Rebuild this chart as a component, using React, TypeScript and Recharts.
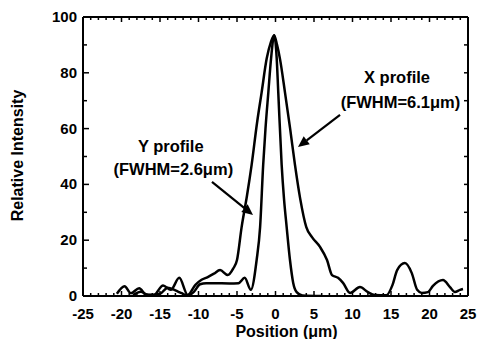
import React from 'react';
import { LineChart, Line, XAxis, YAxis, ReferenceLine, ReferenceDot, Label } from 'recharts';

// X profile (broad, FWHM = 6.1 um)
const xProfilePos = [-20.6, -19.6, -18.8, -17.7, -16.8, -15.8, -14.6, -13.6, -12.5, -11.4, -10.4, -9.6, -8.8, -8.0, -7.2, -6.2, -5.5, -5.0, -4.4, -3.7, -3.1, -2.4, -1.8, -1.15, -0.6, -0.17, 0.2, 0.58, 1.23, 1.9, 2.53, 3.2, 4.0, 4.74, 5.78, 6.69, 7.34, 8.12, 8.77, 9.68, 10.97, 12.0, 12.9, 14.4, 15.2, 15.8, 16.8, 17.7, 18.4, 19.0, 19.8, 20.45, 21.75, 22.66, 23.3, 23.96, 24.35];
const xProfileVal = [0.8, 3.5, 1.0, 2.8, 0.5, 0.4, 3.8, 2.2, 6.5, 0.4, 4.0, 5.8, 6.8, 8.0, 9.3, 7.5, 9.8, 12.9, 24.7, 36, 47, 62, 73, 85, 91, 93.5, 90, 85, 73, 60, 47, 35, 24.7, 21.1, 17.6, 12.9, 7.5, 6.5, 4.7, 1.1, 3.2, 1.4, 0.4, 0.3, 4.0, 9.3, 11.8, 8.2, 2.2, 1.1, 1.4, 3.6, 5.7, 3.2, 1.4, 2.2, 2.5];

// Y profile (narrow, FWHM = 2.6 um)
const yProfilePos = [-18.5, -17.5, -16.5, -15.0, -14.0, -13.0, -12.2, -11.4, -10.6, -9.8, -9.0, -8.0, -6.0, -4.8, -4.0, -3.2, -2.45, -2.0, -1.6, -1.3, -0.93, -0.58, -0.17, 0.16, 0.36, 0.8, 1.1, 1.45, 1.88, 2.3, 2.75, 3.5, 6.0];
const yProfileVal = [0.3, 1.5, 0.3, 0.8, 3.0, 2.0, 1.0, 0.2, 1.5, 4.2, 4.6, 4.6, 4.5, 4.6, 6.5, 2.2, 12.9, 24.7, 47, 60, 73, 85, 93.5, 85, 73, 47, 35, 24.7, 12.9, 4.7, 1.4, 0.2, 0];

const xMajorTicks = [-25, -20, -15, -10, -5, 0, 5, 10, 15, 20, 25];
const xAllTicks = Array.from({ length: 51 }, (_, i) => i - 25);
const yMajorTicks = [0, 20, 40, 60, 80, 100];
const yAllTicks = [0, 10, 20, 30, 40, 50, 60, 70, 80, 90, 100];

const xTitle = 'Position (\u03bcm)';
const yTitle = 'Relative Intensity';

const annotations = [
  { x: 15.78, y: 76.2, text: 'X profile' },
  { x: 16.23, y: 67.3, text: '(FWHM=6.1\u03bcm)' },
  { x: -13.6, y: 51.7, text: 'Y profile' },
  { x: -13.27, y: 43.4, text: '(FWHM=2.6\u03bcm)' },
];

const arrows = [
  { from: { x: 8.38, y: 64.9 }, to: { x: 2.92, y: 53.4 } },
  { from: { x: -8.25, y: 40.9 }, to: { x: -2.92, y: 29.0 } },
];

const xData = xProfilePos.map((p, i) => ({ pos: p, val: xProfileVal[i] }));
const yData = yProfilePos.map((p, i) => ({ pos: p, val: yProfileVal[i] }));

const FONT = '"Liberation Sans", Arial, Helvetica, sans-serif';

const BottomTick = (props: any) => {
  const { x, y, payload } = props;
  const v = payload.value;
  const major = xMajorTicks.includes(v);
  return (
    <g>
      <line x1={x} y1={y} x2={x} y2={y - (major ? 5 : 3)} stroke="#000" strokeWidth={1.5} />
      {major && (
        <text x={x} y={y + 23} textAnchor="middle" fontFamily={FONT} fontWeight="bold" fontSize={15} fill="#000">
          {v}
        </text>
      )}
    </g>
  );
};

const TopTick = (props: any) => {
  const { x, y, payload } = props;
  const major = xMajorTicks.includes(payload.value);
  return <line x1={x} y1={y} x2={x} y2={y + (major ? 5 : 3)} stroke="#000" strokeWidth={1.5} />;
};

const LeftTick = (props: any) => {
  const { x, y, payload } = props;
  const v = payload.value;
  const major = yMajorTicks.includes(v);
  return (
    <g>
      <line x1={x} y1={y} x2={x + (major ? 6 : 4)} y2={y} stroke="#000" strokeWidth={1.5} />
      {major && (
        <text x={x - 6} y={y + 5} textAnchor="end" fontFamily={FONT} fontWeight="bold" fontSize={15} fill="#000">
          {v}
        </text>
      )}
    </g>
  );
};

const RightTick = (props: any) => {
  const { x, y } = props;
  return <line x1={x} y1={y} x2={x - 4} y2={y} stroke="#000" strokeWidth={1.5} />;
};

const ArrowShape = (props: any) => {
  const { x1, y1, x2, y2 } = props;
  const ang = Math.atan2(y2 - y1, x2 - x1);
  const L = 11;
  const W = 5;
  const bx = x2 - L * Math.cos(ang);
  const by = y2 - L * Math.sin(ang);
  const p1x = bx + W * Math.sin(ang);
  const p1y = by - W * Math.cos(ang);
  const p2x = bx - W * Math.sin(ang);
  const p2y = by + W * Math.cos(ang);
  return (
    <g>
      <line x1={x1} y1={y1} x2={bx} y2={by} stroke="#000" strokeWidth={2.2} />
      <polygon points={`${x2},${y2} ${p1x},${p1y} ${p2x},${p2y}`} fill="#000" />
    </g>
  );
};

export default function App() {
  return (
    <div style={{ position: 'absolute', left: 0, top: 0, width: 477, height: 339, background: '#fff' }}>
      <LineChart width={477} height={339} margin={{ top: 16, right: 8, left: 0, bottom: 0 }}>
        <XAxis
          dataKey="pos"
          type="number"
          domain={[-25, 25]}
          ticks={xAllTicks}
          interval={0}
          tickSize={0}
          tickMargin={0}
          tickLine={false}
          tick={<BottomTick />}
          height={43}
          axisLine={{ stroke: '#000', strokeWidth: 2 }}
          allowDataOverflow
        >
          <Label
            content={(p: any) => {
              const vb = p.viewBox;
              return (
                <text x={vb.x + vb.width / 2 + 11} y={vb.y + 41} textAnchor="middle" fontFamily={FONT} fontWeight="bold" fontSize={16} fill="#000">
                  {xTitle}
                </text>
              );
            }}
          />
        </XAxis>
        <XAxis
          xAxisId="top"
          dataKey="pos"
          orientation="top"
          type="number"
          domain={[-25, 25]}
          ticks={xAllTicks}
          interval={0}
          tickSize={0}
          tickMargin={0}
          tickLine={false}
          tick={<TopTick />}
          height={1}
          axisLine={{ stroke: '#000', strokeWidth: 2 }}
          allowDataOverflow
        />
        <YAxis
          type="number"
          domain={[0, 100]}
          ticks={yAllTicks}
          interval={0}
          tickSize={0}
          tickMargin={0}
          tickLine={false}
          tick={<LeftTick />}
          width={83}
          axisLine={{ stroke: '#000', strokeWidth: 2 }}
          allowDataOverflow
        >
          <Label
            content={(p: any) => {
              const vb = p.viewBox;
              const cx = 23;
              const cy = vb.y + vb.height / 2 - 1;
              return (
                <text x={cx} y={cy} transform={`rotate(-90, ${cx}, ${cy})`} textAnchor="middle" fontFamily={FONT} fontWeight="bold" fontSize={16} fill="#000">
                  {yTitle}
                </text>
              );
            }}
          />
        </YAxis>
        <YAxis
          yAxisId="right"
          orientation="right"
          type="number"
          domain={[0, 100]}
          ticks={yAllTicks}
          interval={0}
          tickSize={0}
          tickMargin={0}
          tickLine={false}
          tick={<RightTick />}
          width={1}
          axisLine={{ stroke: '#000', strokeWidth: 2 }}
          allowDataOverflow
        />
        <Line
          xAxisId="top"
          yAxisId="right"
          data={xData}
          dataKey="val"
          type="monotone"
          stroke="none"
          strokeOpacity={0}
          dot={false}
          activeDot={false}
          legendType="none"
          isAnimationActive={false}
        />
        <Line data={xData} dataKey="val" type="monotone" stroke="#000" strokeWidth={2.5} dot={false} isAnimationActive={false} />
        <Line data={yData} dataKey="val" type="monotone" stroke="#000" strokeWidth={2.5} dot={false} isAnimationActive={false} />
        {arrows.map((a, i) => (
          <ReferenceLine key={`a${i}`} segment={[a.from, a.to]} shape={ArrowShape} ifOverflow="visible" />
        ))}
        {annotations.map((t, i) => (
          <ReferenceDot
            key={`t${i}`}
            x={t.x}
            y={t.y}
            ifOverflow="visible"
            shape={(p: any) => (
              <text x={p.cx} y={p.cy} textAnchor="middle" fontFamily={FONT} fontWeight="bold" fontSize={16.5} fill="#000">
                {t.text}
              </text>
            )}
          />
        ))}
      </LineChart>
    </div>
  );
}
